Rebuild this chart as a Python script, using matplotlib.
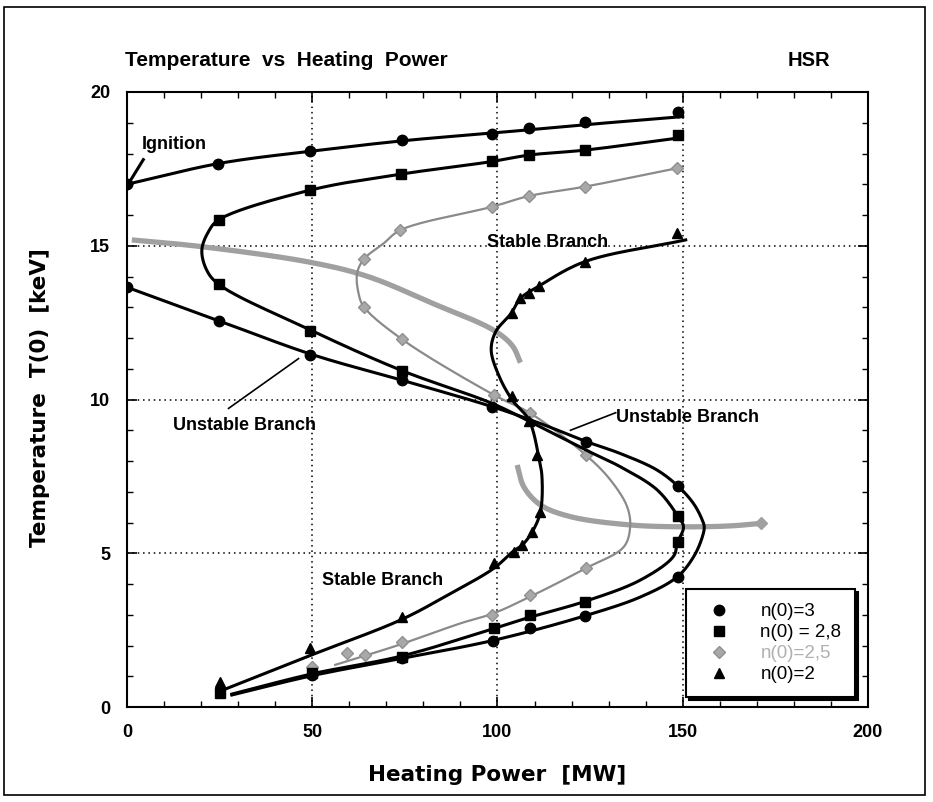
import numpy as np
import matplotlib
matplotlib.use("Agg")
import matplotlib.pyplot as plt
from matplotlib.patches import Rectangle
from matplotlib.lines import Line2D

plt.rcParams['font.family'] = ['Liberation Sans', 'DejaVu Sans']

# ---------------- data ----------------
# n(0)=3 : circles
n3_upper_x = [0, 25, 50, 75, 100, 125, 150]
n3_upper_y = [17.0, 17.68, 18.08, 18.42, 18.68, 18.95, 19.2]
n3_curve_x = [0, 25, 50, 75, 99, 112, 124, 133, 143, 149, 153, 155.2, 155.8, 155.2, 153, 148.6, 139, 124, 99, 75, 50, 28.3]
n3_curve_y = [13.65, 12.55, 11.46, 10.6, 9.75, 9.2, 8.63, 8.25, 7.71, 7.15, 6.6, 6.1, 5.86, 5.5, 4.9, 4.24, 3.6, 2.98, 2.17, 1.6, 1.02, 0.39]
n3_mark_x = [0, 24.6, 49.5, 74.1, 98.6, 108.6, 123.5, 148.6,
             0, 24.7, 49.5, 74.2, 98.6, 123.8, 148.6, 148.6, 123.5, 108.9, 98.7, 74.2, 49.9]
n3_mark_y = [17.0, 17.66, 18.08, 18.44, 18.63, 18.82, 19.03, 19.34,
             13.67, 12.55, 11.46, 10.63, 9.75, 8.63, 7.19, 4.24, 2.97, 2.56, 2.16, 1.58, 1.04]

# n(0)=2,8 : squares
n28_curve_x = [148.6, 123.6, 108.6, 98.6, 74, 49.5, 24.7, 22, 20.2, 21.5, 24.7, 49.5, 74.2, 98.6, 110, 123.8, 133.2, 143.1, 148.6, 150.2, 148.6, 147.5, 138.6, 123.5, 108.7, 99, 74.2, 50, 28.3]
n28_curve_y = [18.5, 18.11, 17.95, 17.74, 17.33, 16.81, 15.84, 15.46, 14.86, 14.21, 13.75, 12.26, 10.94, 9.87, 9.2, 8.36, 7.81, 7.06, 6.22, 5.86, 5.35, 4.9, 4.13, 3.43, 2.92, 2.55, 1.66, 1.08, 0.42]
n28_mark_x = [148.6, 123.6, 108.6, 98.6, 74, 49.5, 24.7, 24.7, 49.5, 74.2, 148.6, 148.6, 123.5, 108.7, 99, 74.2, 49.9, 25.1]
n28_mark_y = [18.6, 18.11, 17.95, 17.74, 17.33, 16.81, 15.84, 13.75, 12.24, 10.94, 6.22, 5.35, 3.43, 2.99, 2.58, 1.64, 1.09, 0.44]

# n(0)=2,5 : grey diamonds
n25_curve_x = [148.4, 123.5, 108.6, 98.6, 73.8, 69.3, 63.9, 62.1, 62.5, 63.9, 74.2, 99, 108.9, 123.8, 130.5, 135, 135.8, 134.1, 123.8, 109, 99, 90, 74.2, 56.2]
n25_curve_y = [17.52, 16.92, 16.62, 16.27, 15.51, 15.08, 14.56, 14.1, 13.45, 13.02, 11.96, 10.15, 9.55, 8.2, 7.38, 6.51, 5.86, 5.21, 4.51, 3.6, 3.05, 2.72, 2.05, 1.37]
n25_mark_x = [148.4, 123.5, 108.6, 98.6, 73.8, 63.9, 63.9, 74.2, 99, 108.9, 123.8, 123.8, 108.9, 98.6, 74.2, 64.3, 59.4, 49.9]
n25_mark_y = [17.52, 16.92, 16.62, 16.27, 15.51, 14.56, 13.02, 11.96, 10.15, 9.55, 8.2, 4.51, 3.64, 2.99, 2.12, 1.69, 1.74, 1.31]

# thick grey curves (no legend entry)
g1_x = [1.3, 20.2, 50, 65, 83, 99, 104, 106.2]
g1_y = [15.19, 14.97, 14.45, 14.0, 13.1, 12.25, 11.75, 11.2]
g2_x = [105.3, 107.1, 111.6, 119.7, 135.8, 150.4, 163, 171]
g2_y = [7.87, 7.16, 6.57, 6.19, 5.92, 5.86, 5.89, 5.97]

# n(0)=2 : triangles
n2_curve_x = [150.8, 123.5, 111.2, 106.2, 103.8, 99.5, 98.3, 100.5, 104, 108.5, 111.2, 112, 111.6, 109.4, 106.7, 104.4, 99, 87.3, 74.2, 50.4, 26.9]
n2_curve_y = [15.19, 14.48, 13.69, 13.29, 12.82, 12.2, 11.6, 10.74, 9.98, 9.33, 8.09, 7.49, 6.35, 5.7, 5.27, 5.08, 4.51, 3.69, 2.85, 1.72, 0.6]
n2_mark_x = [148.4, 123.5, 111.2, 108.6, 106.2, 103.8, 104, 108.5, 110.7, 111.6, 109.4, 106.7, 104.4, 99, 74.2, 49.5, 25.1]
n2_mark_y = [15.42, 14.48, 13.69, 13.45, 13.29, 12.82, 10.1, 9.3, 8.2, 6.35, 5.7, 5.27, 5.05, 4.67, 2.94, 1.91, 0.82]

legend_labels = ["n(0)=3", "n(0) = 2,8", "n(0)=2,5", "n(0)=2"]
x_ticks = [0, 50, 100, 150, 200]
y_ticks = [0, 5, 10, 15, 20]

# ---------------- helpers ----------------
SX, SY = 3.7, 30.75   # px per unit, used only for isotropic smoothing


def smooth(xs, ys, n=24):
    P = np.column_stack([np.asarray(xs, float) * SX, np.asarray(ys, float) * SY])
    if len(P) < 3:
        return P[:, 0] / SX, P[:, 1] / SY
    P = np.vstack([2 * P[0] - P[1], P, 2 * P[-1] - P[-2]])
    out = []
    for i in range(1, len(P) - 2):
        p0, p1, p2, p3 = P[i - 1], P[i], P[i + 1], P[i + 2]
        t0 = 0.0
        t1 = t0 + max(np.linalg.norm(p1 - p0), 1e-6) ** 0.5
        t2 = t1 + max(np.linalg.norm(p2 - p1), 1e-6) ** 0.5
        t3 = t2 + max(np.linalg.norm(p3 - p2), 1e-6) ** 0.5
        t = np.linspace(t1, t2, n)[:, None]
        A1 = (t1 - t) / (t1 - t0) * p0 + (t - t0) / (t1 - t0) * p1
        A2 = (t2 - t) / (t2 - t1) * p1 + (t - t1) / (t2 - t1) * p2
        A3 = (t3 - t) / (t3 - t2) * p2 + (t - t2) / (t3 - t2) * p3
        B1 = (t2 - t) / (t2 - t0) * A1 + (t - t0) / (t2 - t0) * A2
        B2 = (t3 - t) / (t3 - t1) * A2 + (t - t1) / (t3 - t1) * A3
        C = (t2 - t) / (t2 - t1) * B1 + (t - t1) / (t2 - t1) * B2
        out.append(C if i == 1 else C[1:])
    C = np.vstack(out)
    return C[:, 0] / SX, C[:, 1] / SY


# ---------------- figure ----------------
fig = plt.figure(figsize=(9.33, 8.02), dpi=100)
ax = fig.add_axes([127 / 933, 95 / 802, 741 / 933, 615 / 802])

grey_thin = '#8a8a8a'
grey_thick = '#a0a0a0'

# thick grey curves
for gx, gy in [(g1_x, g1_y), (g2_x, g2_y)]:
    sx, sy = smooth(gx, gy)
    ax.plot(sx, sy, color=grey_thick, lw=3.8, solid_capstyle='butt', zorder=3)
ax.plot([g2_x[-1]], [g2_y[-1]], marker='D', ms=6, color=grey_thick, ls='none', zorder=4)

# n(0)=2,5
sx, sy = smooth(n25_curve_x, n25_curve_y)
ax.plot(sx, sy, color=grey_thin, lw=1.6, zorder=4)
ax.plot(n25_mark_x, n25_mark_y, ls='none', marker='D', ms=6.5, color='#a8a8a8',
        mec='#909090', zorder=4)

# n(0)=3
sx, sy = smooth(n3_upper_x, n3_upper_y)
ax.plot(sx, sy, color='black', lw=2.2, zorder=5)
sx, sy = smooth(n3_curve_x, n3_curve_y)
ax.plot(sx, sy, color='black', lw=2.2, zorder=5)
ax.plot(n3_mark_x, n3_mark_y, ls='none', marker='o', ms=7.5, color='black', zorder=6)

# n(0)=2,8
sx, sy = smooth(n28_curve_x, n28_curve_y)
ax.plot(sx, sy, color='black', lw=2.2, zorder=5)
ax.plot(n28_mark_x, n28_mark_y, ls='none', marker='s', ms=7.5, color='black', zorder=6)

# n(0)=2
sx, sy = smooth(n2_curve_x, n2_curve_y)
ax.plot(sx, sy, color='black', lw=2.2, zorder=5)
ax.plot(n2_mark_x, n2_mark_y, ls='none', marker='^', ms=7, color='black', zorder=6)

# axes styling
ax.set_xlim(0, 200)
ax.set_ylim(0, 20)
ax.set_xticks(x_ticks)
ax.set_yticks(y_ticks)
ax.set_xticks(np.arange(0, 201, 10), minor=True)
ax.set_yticks(np.arange(0, 21, 1), minor=True)
ax.tick_params(which='both', direction='in', top=True, right=True)
ax.tick_params(which='major', length=7, width=1.2, labelsize=13, pad=12)
ax.tick_params(which='minor', length=4, width=1.0)
for lab in ax.get_xticklabels() + ax.get_yticklabels():
    lab.set_fontweight('bold')
for sp in ax.spines.values():
    sp.set_linewidth(1.5)
ax.grid(True, which='major', color='black', linestyle=(0, (1, 2.5)), lw=1.1, zorder=1)

ax.set_xlabel('Heating Power  [MW]', fontsize=15.5, fontweight='bold',
              family=['DejaVu Sans'])
ax.set_ylabel('Temperature  T(0)  [keV]', fontsize=15.5, fontweight='bold',
              family=['DejaVu Sans'])
ax.xaxis.set_label_coords(0.5, (707 - 775) / 615)
ax.xaxis.label.set_va('center')
ax.yaxis.set_label_coords((40 - 127) / 741, (707 - 398) / 615)
ax.yaxis.label.set_va('center')

# annotations
tk = dict(fontsize=13, fontweight='bold', zorder=7)
ax.text(4.0, 18.3, 'Ignition', va='center', ha='left', **tk)
ax.plot([0.3, 4.4], [17.0, 17.8], color='black', lw=2.2, zorder=6)
ax.text(12.4, 9.17, 'Unstable Branch', va='center', ha='left', **tk)
ax.plot([27.4, 46.3], [9.71, 11.33], color='black', lw=1.2, zorder=6)
ax.text(97.3, 15.09, 'Stable Branch', va='center', ha='left', **tk)
ax.text(131.9, 9.43, 'Unstable Branch', va='center', ha='left', **tk)
ax.plot([119.7, 131.9], [9.0, 9.57], color='black', lw=1.2, zorder=6)
ax.text(52.7, 4.13, 'Stable Branch', va='center', ha='left', **tk)

# legend
handles = [
    Line2D([], [], ls='none', marker='o', ms=7.5, color='black'),
    Line2D([], [], ls='none', marker='s', ms=7.5, color='black'),
    Line2D([], [], ls='none', marker='D', ms=6.5, color='#a8a8a8', mec='#909090'),
    Line2D([], [], ls='none', marker='^', ms=7, color='black'),
]
leg = ax.legend(handles, legend_labels, loc='lower right', bbox_to_anchor=(0.983, 0.016),
                fontsize=13.5, frameon=True, fancybox=False, edgecolor='black',
                framealpha=1, shadow={'color': 'black', 'alpha': 1}, borderpad=0.75,
                handletextpad=1.2, labelspacing=0.2, borderaxespad=0)
leg.get_frame().set_linewidth(1.5)
leg.set_zorder(10)
leg.get_texts()[2].set_color('#b0b0b0')

# titles
fig.text(125 / 933, 1 - 60 / 802, 'Temperature  vs  Heating  Power', fontsize=15,
         fontweight='bold', va='center', ha='left')
fig.text(788 / 933, 1 - 60 / 802, 'HSR', fontsize=14.5, fontweight='bold', va='center', ha='left')

# outer frame
fig.patches.append(Rectangle((4 / 933, 7 / 802), 921 / 933, 788 / 802, transform=fig.transFigure,
                             fill=False, lw=1.2, ec='black'))

fig.savefig('out.png', dpi=100)
